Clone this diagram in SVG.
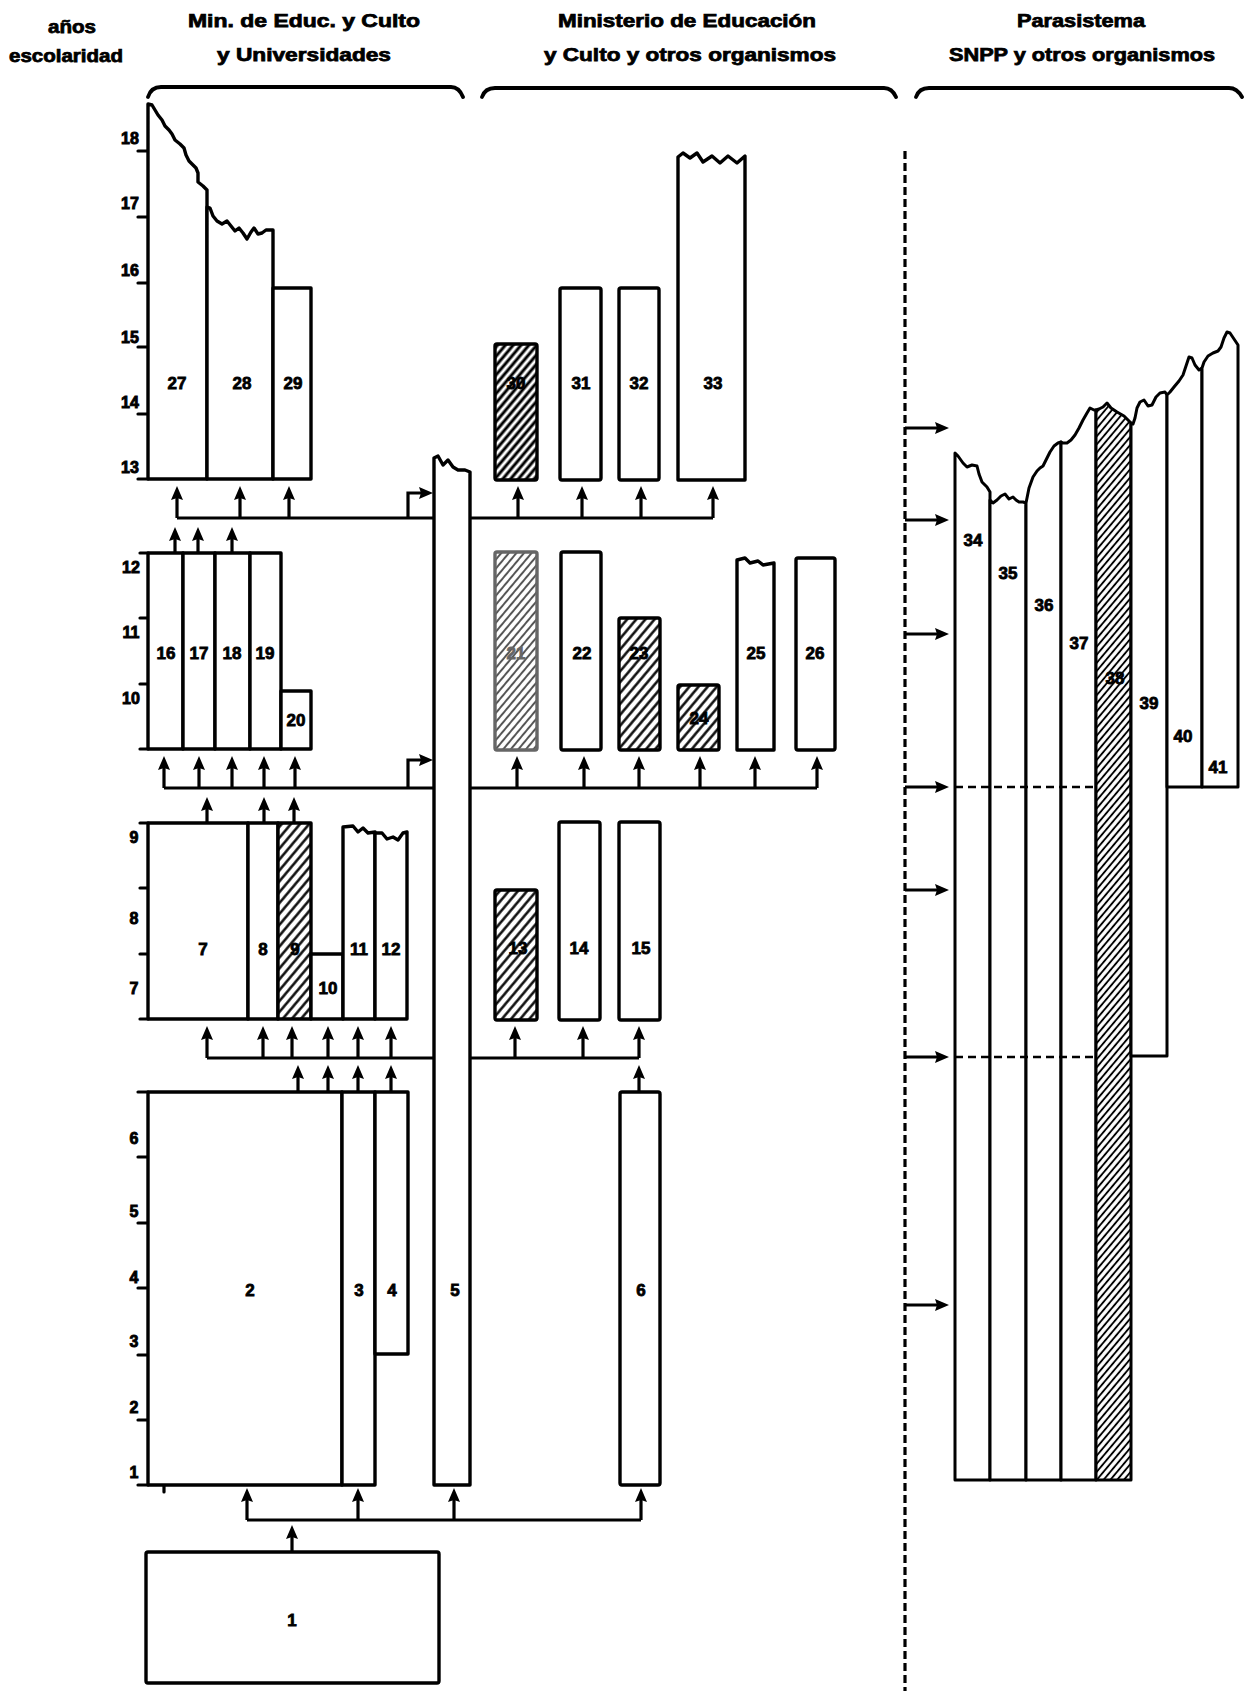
<svg xmlns="http://www.w3.org/2000/svg" width="1248" height="1691" viewBox="0 0 1248 1691">
<defs>
<style>
.b{fill:#fff;stroke:#000;stroke-width:3.4;stroke-linejoin:round}
.rp{fill:#fff;stroke:#000;stroke-width:3;stroke-linejoin:round}
.ax{fill:none;stroke:#000;stroke-width:3.2;stroke-linecap:round}
.c{fill:none;stroke:#000;stroke-width:3.2;stroke-linejoin:miter}
.a{fill:none;stroke:#000;stroke-width:3.2;marker-end:url(#ah)}
.d{fill:none;stroke:#000;stroke-width:3.2;stroke-dasharray:8 4}
.dh{fill:none;stroke:#000;stroke-width:2.6;stroke-dasharray:8 5}
.br{fill:none;stroke:#000;stroke-width:3.8;stroke-linecap:round;stroke-linejoin:round}
text{font-family:"Liberation Sans",Arial,Helvetica,sans-serif;font-weight:bold;text-anchor:middle;fill:#000}
.h{font-size:18px;stroke:#000;stroke-width:0.75}
.n{font-size:17px;stroke:#000;stroke-width:0.8}
.y{font-size:16px;stroke:#000;stroke-width:0.9}
</style>
<marker id="ah" markerUnits="userSpaceOnUse" viewBox="0 0 14 12" refX="9" refY="6" markerWidth="14" markerHeight="12" orient="auto"><path d="M0,0 L14,6 L0,12 L2,6 Z" fill="#000"/></marker>
<pattern id="hatch" patternUnits="userSpaceOnUse" width="7" height="7" patternTransform="rotate(40)"><rect width="7" height="7" fill="#fff"/><line x1="3.5" y1="0" x2="3.5" y2="7" stroke="#000" stroke-width="2.4"/></pattern>
<pattern id="hatchFine" patternUnits="userSpaceOnUse" width="5.2" height="5.2" patternTransform="rotate(40)"><rect width="5.2" height="5.2" fill="#fff"/><line x1="2.6" y1="0" x2="2.6" y2="5.2" stroke="#000" stroke-width="1.9"/></pattern>
<pattern id="hatchDark" patternUnits="userSpaceOnUse" width="6" height="6" patternTransform="rotate(40)"><rect width="6" height="6" fill="#fff"/><line x1="3" y1="0" x2="3" y2="6" stroke="#000" stroke-width="3"/></pattern>
<pattern id="hatchLight" patternUnits="userSpaceOnUse" width="5.8" height="5.8" patternTransform="rotate(40)"><rect width="5.8" height="5.8" fill="#fff"/><line x1="2.9" y1="0" x2="2.9" y2="5.8" stroke="#555" stroke-width="2"/></pattern>
</defs>
<rect width="1248" height="1691" fill="#fff"/>

<g id="headers">
<text class="h" x="72" y="33" textLength="48" lengthAdjust="spacingAndGlyphs">años</text>
<text class="h" x="66" y="62" textLength="114" lengthAdjust="spacingAndGlyphs">escolaridad</text>
<text class="h" x="304" y="27" textLength="232" lengthAdjust="spacingAndGlyphs">Min. de Educ. y Culto</text>
<text class="h" x="304" y="61" textLength="174" lengthAdjust="spacingAndGlyphs">y Universidades</text>
<text class="h" x="687" y="27" textLength="258" lengthAdjust="spacingAndGlyphs">Ministerio de Educación</text>
<text class="h" x="690" y="61" textLength="292" lengthAdjust="spacingAndGlyphs">y Culto y otros organismos</text>
<text class="h" x="1081" y="27" textLength="128" lengthAdjust="spacingAndGlyphs">Parasistema</text>
<text class="h" x="1082" y="61" textLength="266" lengthAdjust="spacingAndGlyphs">SNPP y otros organismos</text>
<path class="br" d="M148,97 Q151,87 161,87 H451 Q459,87 463,97"/>
<path class="br" d="M482,97 Q485,88 495,88 H884 Q892,88 896,97"/>
<path class="br" d="M916,97 Q919,88 929,88 H1229 Q1237,88 1242,97"/>
</g>

<g id="connectors">
<path class="c" d="M177,518 H713"/>
<path class="a" d="M177,518 V491"/><path class="a" d="M240,518 V491"/><path class="a" d="M289,518 V491"/>
<path class="a" d="M518,518 V491"/><path class="a" d="M582,518 V491"/><path class="a" d="M641,518 V491"/><path class="a" d="M713,518 V491"/>
<path class="a" d="M408,518 V493 H428"/>
<path class="a" d="M175,553 V532"/><path class="a" d="M198,553 V532"/><path class="a" d="M232,553 V532"/>
<path class="c" d="M164,788 H817"/>
<path class="a" d="M164,788 V761"/><path class="a" d="M199,788 V761"/><path class="a" d="M232,788 V761"/><path class="a" d="M264,788 V761"/><path class="a" d="M295,788 V761"/>
<path class="a" d="M517,788 V761"/><path class="a" d="M584,788 V761"/><path class="a" d="M639,788 V761"/><path class="a" d="M700,788 V761"/><path class="a" d="M755,788 V761"/><path class="a" d="M817,788 V761"/>
<path class="a" d="M408,788 V760 H428"/>
<path class="a" d="M207,823 V802"/><path class="a" d="M264,823 V802"/><path class="a" d="M294,823 V802"/>
<path class="c" d="M207,1058 H639"/>
<path class="a" d="M207,1058 V1031"/><path class="a" d="M263,1058 V1031"/><path class="a" d="M292,1058 V1031"/><path class="a" d="M328,1058 V1031"/><path class="a" d="M358,1058 V1031"/><path class="a" d="M391,1058 V1031"/>
<path class="a" d="M515,1058 V1031"/><path class="a" d="M583,1058 V1031"/><path class="a" d="M639,1058 V1031"/>
<path class="a" d="M298,1092 V1070"/><path class="a" d="M328,1092 V1070"/><path class="a" d="M358,1092 V1070"/><path class="a" d="M391,1092 V1070"/><path class="a" d="M639,1092 V1070"/>
<path class="c" d="M247,1520 H641"/>
<path class="a" d="M247,1520 V1493"/><path class="a" d="M358,1520 V1493"/><path class="a" d="M454,1520 V1493"/><path class="a" d="M641,1520 V1493"/>
<path class="a" d="M292,1552 V1530"/>
<path class="d" d="M905,151 V1691"/>
<path class="a" d="M905,428 H944"/><path class="a" d="M905,520 H944"/><path class="a" d="M905,634 H944"/><path class="a" d="M905,787 H944"/><path class="a" d="M905,890 H944"/><path class="a" d="M905,1057 H944"/><path class="a" d="M905,1305 H944"/>
</g>

<g id="axis-13-18">
<path class="ax" d="M138,151 H148 M138,217 H148 M138,283 H148 M138,347 H148 M138,414 H148 M138,479 H148"/>
<text class="y" x="130" y="144">18</text><text class="y" x="130" y="209">17</text><text class="y" x="130" y="276">16</text><text class="y" x="130" y="343">15</text><text class="y" x="130" y="408">14</text><text class="y" x="130" y="473">13</text>
</g>
<g id="n27"><path class="b" d="M148,479 V104 L152,105 L155,110 L158,115 L162,120 L165,126 L169,130 L172,134 L175,140 L180,144 L184,148 L186,155 L189,161 L193,165 L196,168 L198,173 L198,182 L203,186 L207,190 V479 Z"/><text class="n" x="177" y="389">27</text></g>
<g id="n28"><path class="b" d="M207,479 V207 L210,208 L213,216 L217,221 L222,224 L227,221 L231,226 L235,231 L239,228 L243,233 L247,239 L251,232 L254,228 L258,234 L262,233 L266,230 L273,230 V479 Z"/><text class="n" x="242" y="389">28</text></g>
<g id="n29"><rect class="b" x="273" y="288" width="38" height="191"/><text class="n" x="293" y="389">29</text></g>
<g id="n5"><path class="b" d="M434,1485 V458 L438,456 L443,465 L448,460 L453,467 L458,470 L465,470 L470,472 V1485 Z"/><text class="n" x="455" y="1296">5</text></g>
<g id="n30"><rect class="b" x="495" y="344" width="42" height="136" rx="2" style="fill:url(#hatchDark)"/><text class="n" x="516" y="389">30</text></g>
<g id="n31"><rect class="b" x="560" y="288" width="41" height="192" rx="2"/><text class="n" x="581" y="389">31</text></g>
<g id="n32"><rect class="b" x="619" y="288" width="40" height="192" rx="2"/><text class="n" x="639" y="389">32</text></g>
<g id="n33"><path class="b" d="M678,480 V157 L683,153 L690,158 L697,153 L703,162 L712,156 L720,163 L728,156 L737,163 L745,156 V480 Z"/><text class="n" x="713" y="389">33</text></g>

<g id="axis-10-12">
<path class="ax" d="M140,553 H148 M140,618 H148 M140,684 H148 M140,749 H148"/>
<text class="y" x="131" y="573">12</text><text class="y" x="131" y="638">11</text><text class="y" x="131" y="704">10</text>
</g>
<g id="n16"><rect class="b" x="148" y="553" width="35" height="196"/><text class="n" x="166" y="659">16</text></g>
<g id="n17"><rect class="b" x="183" y="553" width="32" height="196"/><text class="n" x="199" y="659">17</text></g>
<g id="n18"><rect class="b" x="215" y="553" width="35" height="196"/><text class="n" x="232" y="659">18</text></g>
<g id="n19"><rect class="b" x="250" y="553" width="31" height="196"/><text class="n" x="265" y="659">19</text></g>
<g id="n20"><rect class="b" x="281" y="691" width="30" height="58"/><text class="n" x="296" y="726">20</text></g>
<g id="n21"><rect class="b" x="495" y="552" width="42" height="198" rx="2" style="fill:url(#hatchLight);stroke:#666"/><text class="n" x="516" y="659" style="fill:#666;stroke:#666">21</text></g>
<g id="n22"><rect class="b" x="561" y="552" width="40" height="198" rx="2"/><text class="n" x="582" y="659">22</text></g>
<g id="n23"><rect class="b" x="619" y="618" width="41" height="132" rx="2" style="fill:url(#hatch)"/><text class="n" x="639" y="659">23</text></g>
<g id="n24"><rect class="b" x="678" y="685" width="41" height="65" rx="2" style="fill:url(#hatch)"/><text class="n" x="699" y="724">24</text></g>
<g id="n25"><path class="b" d="M737,750 V560 L745,558 L750,563 L758,561 L763,565 L774,563 V750 Z"/><text class="n" x="756" y="659">25</text></g>
<g id="n26"><rect class="b" x="796" y="558" width="39" height="192" rx="2"/><text class="n" x="815" y="659">26</text></g>

<g id="axis-7-9">
<path class="ax" d="M140,823 H148 M140,888 H148 M140,954 H148 M140,1019 H148"/>
<text class="y" x="134" y="843">9</text><text class="y" x="134" y="924">8</text><text class="y" x="134" y="994">7</text>
</g>
<g id="n7"><rect class="b" x="148" y="823" width="100" height="196"/><text class="n" x="203" y="955">7</text></g>
<g id="n8"><rect class="b" x="248" y="823" width="30" height="196"/><text class="n" x="263" y="955">8</text></g>
<g id="n9"><rect class="b" x="278" y="823" width="33" height="196" style="fill:url(#hatch)"/><text class="n" x="295" y="955">9</text></g>
<g id="n10"><rect class="b" x="311" y="954" width="32" height="65"/><text class="n" x="328" y="994">10</text></g>
<g id="n11"><path class="b" d="M343,1019 V827 L353,826 L358,832 L363,828 L368,833 L375,832 V1019 Z"/><text class="n" x="359" y="955">11</text></g>
<g id="n12"><path class="b" d="M375,1019 V833 L382,833 L387,839 L393,837 L398,840 L403,833 L407,832 V1019 Z"/><text class="n" x="391" y="955">12</text></g>
<g id="n13"><rect class="b" x="495" y="890" width="42" height="130" rx="2" style="fill:url(#hatch)"/><text class="n" x="518" y="954">13</text></g>
<g id="n14"><rect class="b" x="559" y="822" width="41" height="198" rx="2"/><text class="n" x="579" y="954">14</text></g>
<g id="n15"><rect class="b" x="619" y="822" width="41" height="198" rx="2"/><text class="n" x="641" y="954">15</text></g>

<g id="axis-1-6">
<path class="ax" d="M138,1092 H148 M138,1157 H148 M138,1223 H148 M138,1288 H148 M138,1355 H148 M138,1420 H148 M138,1485 H148 M164,1485 V1492"/>
<text class="y" x="134" y="1144">6</text><text class="y" x="134" y="1217">5</text><text class="y" x="134" y="1283">4</text><text class="y" x="134" y="1347">3</text><text class="y" x="134" y="1413">2</text><text class="y" x="134" y="1478">1</text>
</g>
<g id="n2"><rect class="b" x="148" y="1092" width="194" height="393"/><text class="n" x="250" y="1296">2</text></g>
<g id="n3"><rect class="b" x="342" y="1092" width="33" height="393"/><text class="n" x="359" y="1296">3</text></g>
<g id="n4"><rect class="b" x="375" y="1092" width="33" height="262"/><text class="n" x="392" y="1296">4</text></g>
<g id="n6"><rect class="b" x="620" y="1092" width="40" height="393" rx="2"/><text class="n" x="641" y="1296">6</text></g>
<g id="n1"><rect class="b" x="146" y="1552" width="293" height="131" rx="2"/><text class="n" x="292" y="1626">1</text></g>

<g id="n34"><path class="rp" d="M955,1480 V453 L958,456 L963,463 L967,467 L972,465 L977,466 L979,474 L982,482 L987,487 L990,492 V1480 Z"/><text class="n" x="973" y="546">34</text></g>
<g id="n35"><path class="rp" d="M990,1480 V500 L993,503 L997,500 L1001,496 L1005,494 L1009,499 L1013,497 L1016,500 L1019,502 L1023,502 L1026,503 V1480 Z"/><text class="n" x="1008" y="579">35</text></g>
<g id="n36"><path class="rp" d="M1026,1480 V503 L1027,498 L1029,488 L1033,477 L1037,471 L1040,468 L1043,466 L1046,460 L1050,452 L1054,446 L1058,443 L1061,442 V1480 Z"/><text class="n" x="1044" y="611">36</text></g>
<g id="n37"><path class="rp" d="M1061,1480 V442 L1063,443 L1067,443 L1071,440 L1075,435 L1079,428 L1083,420 L1087,413 L1090,408 L1094,410 L1096,410 V1480 Z"/><text class="n" x="1079" y="649">37</text></g>
<g id="n38"><path class="rp" d="M1096,1480 V410 L1099,409 L1103,407 L1107,403 L1111,408 L1117,412 L1124,416 L1131,423 V1480 Z" style="fill:url(#hatchFine)"/><text class="n" x="1115" y="684">38</text></g>
<g id="n39"><path class="rp" d="M1131,1056 V423 L1133,424 L1135,418 L1137,408 L1140,402 L1144,400 L1148,406 L1152,405 L1156,397 L1160,393 L1165,392 L1167,395 V1056 Z"/><text class="n" x="1149" y="709">39</text></g>
<g id="n40"><path class="rp" d="M1167,787 V395 L1170,392 L1174,387 L1179,381 L1183,375 L1186,366 L1189,357 L1192,358 L1195,365 L1199,370 L1202,368 V787 Z"/><text class="n" x="1183" y="742">40</text></g>
<g id="n41"><path class="rp" d="M1202,787 V368 L1204,362 L1208,356 L1213,353 L1218,351 L1221,347 L1224,338 L1227,332 L1230,333 L1234,339 L1238,345 V787 Z"/><text class="n" x="1218" y="773">41</text></g>
<g id="parasistema-levels">
<path class="dh" d="M955,787 H1096 M955,1057 H1096"/>
</g>
</svg>
